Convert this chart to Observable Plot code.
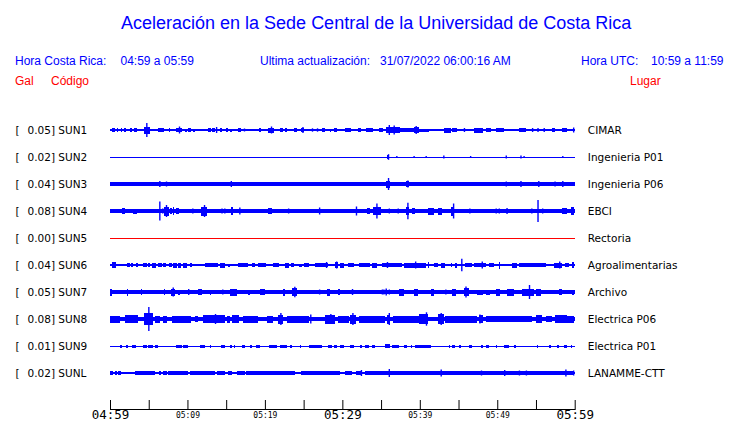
<!DOCTYPE html>
<html><head><meta charset="utf-8">
<script src="https://cdn.jsdelivr.net/npm/d3@7"></script>
<script src="https://cdn.jsdelivr.net/npm/@observablehq/plot@0.6"></script>
<style>
body{margin:0;background:#fff;}
#wrap{position:relative;width:740px;height:423px;overflow:hidden;font-family:"Liberation Sans",Arial,sans-serif;}
.h{position:absolute;white-space:pre;line-height:1;}
#chart{position:absolute;left:0;top:100px;}
</style></head><body><div id="wrap"><div id="chart"></div></div>
<script>
// ---------- data ----------
const titleText = "Aceleración en la Sede Central de la Universidad de Costa Rica";
const localLabel = "Hora Costa Rica:";
const localRange = "04:59 a 05:59";
const updateLabel = "Ultima actualización:";
const updateValue = "31/07/2022 06:00:16 AM";
const utcLabel = "Hora UTC:";
const utcRange = "10:59 a 11:59";
const colHeaders = ["Gal", "Código", "Lugar"];

const codes = ["SUN1","SUN2","SUN3","SUN4","SUN5","SUN6","SUN7","SUN8","SUN9","SUNL"];
const peakGal = [0.05,0.02,0.04,0.08,0.00,0.04,0.05,0.08,0.01,0.02];
const places = ["CIMAR","Ingenieria P01","Ingenieria P06","EBCI","Rectoria","Agroalimentarias","Archivo","Electrica P06","Electrica P01","LANAMME-CTT"];
// background noise half-amplitude of each trace (trace units, 27 = one trace spacing)
const noiseAmp = [0.7,0.5,1.8,2,0.5,0.7,2,2.3,0.5,0.7];

// minutes after 04:59
const tickMinutes = [0,5,10,15,20,25,30,35,40,45,50,55,60];
const majorMinutes = [0,30,60];
const majorLabels = ["04:59","05:29","05:59"];
const minorMinutes = [10,20,40,50];
const minorLabels = ["05:09","05:19","05:39","05:49"];

// bursts: [start minute, end minute, half-amplitude]; spikes: [minute, half-amplitude]
const burstsSUN1 = [[0.3,0.65,1.7],[0.9,1.07,1.7],[1.42,1.6,1.7],[1.85,2.1,1.7],[2.62,2.88,1.7],[3.14,3.49,1.7],[4.43,5.12,3.5],[6.24,6.93,2],[7.62,7.79,1.7],[8.56,9.26,2],[9.68,9.9,1.5],[10.1,10.46,1.7],[10.7,10.97,1.5],[12.7,13.04,1.7],[13.2,13.56,1.7],[14.2,14.5,1.7],[14.93,15.27,1.7],[15.5,15.8,1.5],[16.57,16.9,1.7],[19.24,19.5,1.7],[20.4,21.2,2.5],[22,22.3,1.7],[22.55,22.85,1.7],[23.7,24.1,1.7],[24.6,25.1,2.2],[27.4,27.8,1.7],[28.4,28.5,1.5],[28.96,29.3,1.7],[30.4,31.1,1.7],[31.98,32.4,1.7],[33.1,33.96,1.7],[34.7,35.2,1.7],[35.6,37.4,3],[37.5,39.4,2],[39.2,39.9,2.8],[39.9,41.2,1.5],[43.1,44,2.5],[44.2,44.8,1.7],[47,48.1,2.5],[48.5,49.15,2],[49.8,50.9,2],[52.8,53.7,2],[57.1,57.5,2],[58.4,59,2]];
const spikesSUN1 = [[4.69,7],[8.91,3.5],[13.7,3],[17.3,1.5],[20.79,3.5],[24.85,3],[26.08,1.7],[26.73,1.7],[36.0,5],[36.63,4.5],[39.47,4],[45.7,2],[54.5,2],[55.2,2],[56.0,2],[59.8,2.5]];

const burstsSUN2 = [[35.76,36.06,2.2]];
const spikesSUN2 = [[35.9,2.8],[36.97,1],[39.2,1],[40.76,1],[43.04,1.5],[46.5,1],[51.1,1.5],[53.0,1.5],[53.4,1],[58.4,1]];

const burstsSUN3 = [[35.68,36.2,3.5],[38.2,38.6,2.8]];
const spikesSUN3 = [[6.37,3],[7.23,2.5],[15.6,3],[35.9,6],[38.4,3.5],[51.1,2.5],[53.0,3],[55.3,3],[57.4,2.5],[58.4,3]];

const burstsSUN4 = [[1.6,1.94,3],[3.0,3.45,2.5],[7.0,7.62,4.5],[7.75,7.96,3],[8.09,8.26,4],[8.48,8.91,3],[11.7,12.5,4.5],[15.6,15.9,4],[20.4,20.9,2.7],[33.2,33.6,3],[33.9,35.0,4],[38.2,38.65,4],[39.0,39.4,3],[41.0,41.8,3.5],[42.4,42.9,3.5],[44.0,44.4,4.5],[58.4,59.0,3],[59.5,59.95,4]];
const spikesSUN4 = [[6.37,9.5],[6.75,2.5],[7.23,6],[10.63,2.5],[12.14,6],[14.4,2.5],[14.76,2.5],[16.7,3.5],[22.2,2],[23.0,2.5],[27.0,3.5],[28.0,2],[31.76,4.5],[34.4,7.5],[36.0,2.5],[37.15,2.5],[38.4,8.3],[44.3,7.5],[46.4,2.5],[49.8,2.5],[50.2,2.5],[51.2,3],[54.4,2.5],[55.2,11],[55.8,2.5]];

const burstsSUN5 = [];
const spikesSUN5 = [];

const burstsSUN6 = [[0.2,0.74,2.8],[2.15,2.58,1.7],[2.7,3.0,2],[3.36,3.57,2],[4.3,4.74,2],[4.87,5.16,2],[5.37,6.0,2.5],[6.24,6.67,2],[6.89,7.19,1.7],[7.6,7.96,2],[8.18,8.6,2.5],[8.73,9.17,2.5],[9.47,9.94,2.5],[10.3,10.63,2],[12.27,13.99,2.2],[14.2,14.85,2.5],[15.27,15.5,1.5],[16.57,17.86,2],[18.3,18.7,2],[19.15,19.6,2],[19.6,20.1,2],[21.0,21.8,1.7],[22.55,23.07,2.5],[23.4,23.8,2],[24.45,24.8,1.5],[25.0,25.65,1.7],[26.5,28.2,2.2],[29.1,29.5,3],[29.7,30.2,2.5],[30.7,31.5,2],[32.1,33.6,1.7],[33.8,34.5,2.5],[35.1,37.7,2.2],[37.9,40.3,2.5],[39.9,40.8,2.5],[41.0,41.2,3],[41.8,42.3,2],[42.7,43.3,2.5],[44.0,44.2,2],[44.5,44.8,2.5],[45.9,46.8,2],[47.0,48.5,2.2],[48.9,49.6,2],[50.2,50.4,3.5],[51.9,52.6,2.5],[52.8,56.25,1.7],[57.3,58.4,2.5],[58.8,59.3,2],[59.7,59.95,3]];
const spikesSUN6 = [[27.9,3],[29.2,3.5],[35.76,3],[39.4,3.5],[45.36,6.3],[48.0,3.5],[58.0,3.5]];

const burstsSUN7 = [[0,0.2,3.5],[2.24,2.37,3.5],[4.0,4.17,3],[6.93,7.1,3],[7.88,8.39,3.5],[8.8,9.0,2.5],[11.4,11.84,3],[12.9,13.1,2.5],[15.5,16.36,3.5],[17.86,18.07,2.5],[19.4,20.0,3],[22.3,22.6,3.5],[23.5,24.1,4],[28.0,28.45,3.5],[29.5,29.7,3],[37.3,37.9,3.5],[39.2,39.8,3.5],[41.5,41.8,3.5],[44.2,44.7,3.5],[45.7,46.35,4],[47.4,48.1,2.5],[48.5,49.1,2.5],[49.8,50.4,3.5],[51.3,52.2,3.5],[53.2,54.7,3.5],[55.0,55.6,3.5],[58.0,58.4,3],[59.7,59.95,2.5]];
const spikesSUN7 = [[8.1,4.5],[10.1,3],[14.5,2.5],[23.8,5.3],[27.0,2.5],[31.25,3],[35.1,2.5],[35.3,2.5],[35.6,3.5],[36.0,2.5],[43.3,2.5],[45.9,5.5],[54.1,7]];

const burstsSUN8 = [[0,1.3,3.5],[1.94,3.66,4],[4.43,5.6,6],[5.8,6.46,3.5],[6.9,7.3,3.5],[7.96,10.5,3.5],[11.0,11.4,3],[12.05,14.85,3.8],[15.06,15.5,3.5],[15.7,16.6,4],[17.2,19.15,3.5],[20.3,21.1,3.5],[21.7,22.4,4.5],[22.85,25.65,3.5],[27.8,29.1,4.5],[29.5,30.8,3.5],[31.0,31.7,4.5],[32.1,35.5,3.5],[35.76,36.2,4.5],[36.6,40.3,3.5],[39.9,41.0,5],[42.3,43.1,5],[43.3,47.4,3.5],[47.6,48.1,4],[48.5,54.5,3.3],[55.0,55.8,4],[56.25,57.1,3.2],[57.5,59.0,4],[59.0,59.95,3.5]];
const spikesSUN8 = [[4.95,12],[13.56,5],[22.0,6],[25.86,4.5],[28.45,5],[31.3,6],[36.0,6],[40.05,5],[40.8,6.7],[42.7,6],[47.7,4.5]];

const burstsSUN9 = [[1.3,1.5,1.5],[2.03,2.28,1.5],[2.8,3.32,1.5],[4.3,4.74,1.5],[4.95,5.6,1.5],[5.8,6.16,1.5],[7.05,7.15,1.5],[8.48,9.26,1.5],[9.47,10.1,1.5],[11.6,12.27,1.5],[12.9,13.1,1.5],[13.5,13.6,1.5],[14.33,14.85,1.5],[15.5,15.7,1.5],[16.05,16.15,1.5],[17.0,17.4,1.5],[18.07,18.3,1.5],[18.9,19.4,1.5],[20.5,21.6,1.5],[22.0,22.85,1.5],[23.3,23.5,1.5],[24.55,24.65,1.5],[25.65,27.4,1.5],[28.2,28.7,1.5],[28.9,29.3,1.5],[29.7,30.2,1.5],[31.0,31.5,1.5],[32.3,32.5,1.5],[32.96,33.4,1.5],[33.8,34.25,1.5],[35.5,36.2,2],[36.4,37.3,1.5],[37.9,38.35,1.5],[38.8,39.0,1.5],[39.4,40.06,1.5],[39.9,41.4,1.5],[43.75,43.85,1.5],[44.2,44.6,1.5],[45.06,45.3,1.5],[46.35,46.8,1.5],[47.9,48.1,1.5],[48.5,48.9,1.5],[49.8,50.0,1.5],[50.9,51.5,1.5],[52.2,52.4,1.5],[53.65,53.75,1.5],[55.15,55.25,1.5],[56.7,56.9,1.5],[57.75,58.0,1.5],[58.6,59.0,1.5],[59.5,59.7,1.5]];
const spikesSUN9 = [];

const burstsSUNL = [[0,0.43,1.7],[0.65,0.86,1.7],[1.07,1.42,1.7],[3.2,5.8,1.8],[6.3,6.6,1.7],[6.9,7.3,1.7],[7.5,10.1,1.7],[10.3,13.56,1.8],[13.8,14.85,1.7],[15.2,15.7,1.7],[16.36,17.4,1.7],[17.6,23.9,1.8],[24.6,29.7,1.8],[30.4,31.25,1.7],[31.7,32.5,1.7],[32.96,59.95,1.8],[58.9,59.95,2.3]];
const spikesSUNL = [[32.4,3],[36.0,4],[42.7,3.5],[47.9,2.5],[50.9,3],[52.8,2.5],[53.7,2.5],[58.8,3.5],[59.8,2.5]];

const burstsByTrace = [burstsSUN1,burstsSUN2,burstsSUN3,burstsSUN4,burstsSUN5,burstsSUN6,burstsSUN7,burstsSUN8,burstsSUN9,burstsSUNL];
const spikesByTrace = [spikesSUN1,spikesSUN2,spikesSUN3,spikesSUN4,spikesSUN5,spikesSUN6,spikesSUN7,spikesSUN8,spikesSUN9,spikesSUNL];

// ---------- header (HTML) ----------
const wrap = document.getElementById("wrap");
function addText(txt, left, top, size, color) {
  const d = document.createElement("div");
  d.className = "h";
  d.textContent = txt;
  d.style.left = left + "px";
  d.style.top = top + "px";
  d.style.fontSize = size + "px";
  d.style.color = color;
  wrap.appendChild(d);
}
const BLUE = "#0000ff", RED = "#ff0000";
addText(titleText, 121, 14, 18, BLUE);
addText(localLabel, 15, 55, 12, BLUE);
addText(localRange, 120.5, 55, 12, BLUE);
addText(updateLabel, 260, 55, 12, BLUE);
addText(updateValue, 380, 55, 12, BLUE);
addText(utcLabel, 581, 55, 12, BLUE);
addText(utcRange, 651, 55, 12, BLUE);
addText(colHeaders[0], 15, 75, 12, RED);
addText(colHeaders[1], 51, 75, 12, RED);
addText(colHeaders[2], 630, 75, 12, RED);

// ---------- chart ----------
const SPAN = 27; // amplitude units per trace spacing
const rows = codes.map((code, i) => ({i, code, gal: peakGal[i].toFixed(2), place: places[i], base: noiseAmp[i], color: code === "SUN5" ? RED : BLUE}));
const bursts = burstsByTrace.flatMap((arr, i) => arr.map(([t0, t1, a]) => ({i, t0, t1, a})));
const spikes = spikesByTrace.flatMap((arr, i) => arr.map(([t, a]) => ({i, t, a})));
const majors = majorMinutes.map((m, k) => ({m, label: majorLabels[k]}));
const minors = minorMinutes.map((m, k) => ({m, label: minorLabels[k]}));
const tStart = tickMinutes[0], tEnd = tickMinutes[tickMinutes.length - 1];

const blueRows = rows.filter(d => d.color === BLUE);
const redRows = rows.filter(d => d.color === RED);

const chart = Plot.plot({
  width: 740,
  height: 323,
  marginLeft: 110,
  marginRight: 165.3,
  marginTop: 30,
  marginBottom: 14,
  x: {domain: [tStart, tEnd], axis: null},
  y: {domain: [0, 279 / SPAN], range: [30, 309], axis: null},
  style: {fontFamily: "DejaVu Sans", fontSize: "10.5px", background: "white", overflow: "visible"},
  marks: [
    Plot.rect(blueRows, {x1: () => tStart, x2: () => tEnd, y1: d => d.i - d.base / SPAN, y2: d => d.i + d.base / SPAN, fill: BLUE, shapeRendering: "crispEdges"}),
    Plot.rect(redRows, {x1: () => tStart, x2: () => tEnd, y1: d => d.i - d.base / SPAN, y2: d => d.i + d.base / SPAN, fill: RED, shapeRendering: "crispEdges"}),
    Plot.rect(bursts, {x1: "t0", x2: "t1", y1: d => d.i - d.a / SPAN, y2: d => d.i + d.a / SPAN, fill: BLUE, shapeRendering: "crispEdges"}),
    Plot.ruleX(spikes, {x: "t", y1: d => d.i - d.a / SPAN, y2: d => d.i + d.a / SPAN, stroke: BLUE, strokeWidth: 1.4}),
    Plot.frame({anchor: "bottom", stroke: "black"}),
    Plot.ruleX(tickMinutes, {insetTop: 270, stroke: "black"}),
    Plot.text(majors, {x: "m", text: "label", frameAnchor: "bottom", dy: 9, fontFamily: "DejaVu Sans Mono", fontSize: 12.5, fill: "black"}),
    Plot.text(minors, {x: "m", text: "label", frameAnchor: "bottom", dy: 8, fontFamily: "DejaVu Sans Mono", fontSize: 8, fill: "black"}),
    Plot.text(rows, {y: "i", text: () => "[", frameAnchor: "left", dx: -95, textAnchor: "start", fill: "black"}),
    Plot.text(rows, {y: "i", text: d => `${d.gal}] ${d.code}`, frameAnchor: "left", dx: -83, textAnchor: "start", fill: "black"}),
    Plot.text(rows, {y: "i", text: "place", frameAnchor: "right", dx: 12.6, textAnchor: "start", fill: "black"})
  ]
});
document.getElementById("chart").appendChild(chart);
</script></body></html>
